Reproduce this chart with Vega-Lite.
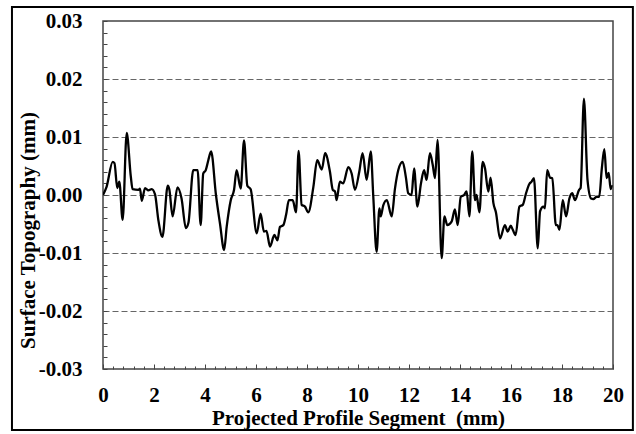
{
  "$schema": "https://vega.github.io/schema/vega-lite/v6.json",
  "width": 510,
  "height": 348,
  "autosize": {"type": "none"},
  "padding": {"left": 103, "top": 21, "right": 23, "bottom": 65},
  "background": "white",
  "config": {"view": {"stroke": "#444", "strokeWidth": 1.5}, "font": "Liberation Serif"},
  "resolve": {"scale": {"x": "independent", "y": "independent"}, "axis": {"x": "independent", "y": "independent"}},
  "layer": [
    {
      "data": {"values": [
        {"x": 0, "y": 0}, {"x": 0.14, "y": 0.0014}, {"x": 0.38, "y": 0.0057}, {"x": 0.45, "y": 0.0055}, {"x": 0.56, "y": 0.0012},
        {"x": 0.64, "y": 0.0023}, {"x": 0.77, "y": -0.0043}, {"x": 0.93, "y": 0.0107}, {"x": 1.09, "y": 0.0032}, {"x": 1.16, "y": 0.001},
        {"x": 1.39, "y": 0.0009}, {"x": 1.45, "y": 0.0011}, {"x": 1.52, "y": -0.001}, {"x": 1.65, "y": 0.0012}, {"x": 1.78, "y": 0.0008},
        {"x": 1.91, "y": 0.001}, {"x": 2.04, "y": 0.0001}, {"x": 2.17, "y": -0.0043}, {"x": 2.33, "y": -0.0072}, {"x": 2.54, "y": 0.0016},
        {"x": 2.6, "y": 0.001}, {"x": 2.73, "y": -0.0037}, {"x": 2.92, "y": 0.0013}, {"x": 3.08, "y": -0.0006}, {"x": 3.25, "y": -0.0057},
        {"x": 3.35, "y": -0.0048}, {"x": 3.54, "y": 0.0043}, {"x": 3.71, "y": 0.0043}, {"x": 3.83, "y": -0.0052}, {"x": 3.93, "y": 0.0037},
        {"x": 4.03, "y": 0.0043}, {"x": 4.13, "y": 0.006}, {"x": 4.24, "y": 0.0075}, {"x": 4.43, "y": 0.0}, {"x": 4.59, "y": -0.005},
        {"x": 4.75, "y": -0.0095}, {"x": 4.85, "y": -0.0055}, {"x": 5.01, "y": -0.0009}, {"x": 5.14, "y": 0.0009}, {"x": 5.24, "y": 0.0043},
        {"x": 5.4, "y": 0.0011}, {"x": 5.53, "y": 0.0094}, {"x": 5.66, "y": 0.0016}, {"x": 5.79, "y": 0.001}, {"x": 6.03, "y": -0.0066},
        {"x": 6.18, "y": -0.0032}, {"x": 6.31, "y": -0.0063}, {"x": 6.41, "y": -0.0062}, {"x": 6.55, "y": -0.0089}, {"x": 6.72, "y": -0.0069},
        {"x": 6.84, "y": -0.0078}, {"x": 6.94, "y": -0.0055}, {"x": 7.07, "y": -0.0052}, {"x": 7.18, "y": -0.0034}, {"x": 7.29, "y": -0.0009},
        {"x": 7.44, "y": -0.0009}, {"x": 7.57, "y": -0.003}, {"x": 7.67, "y": 0.0076}, {"x": 7.79, "y": -0.0017}, {"x": 7.92, "y": -0.002},
        {"x": 8.05, "y": -0.003}, {"x": 8.25, "y": 0.0014}, {"x": 8.4, "y": 0.006}, {"x": 8.58, "y": 0.0044}, {"x": 8.71, "y": 0.0072},
        {"x": 8.9, "y": 0.004}, {"x": 9.01, "y": 0.0009}, {"x": 9.1, "y": 0.0006}, {"x": 9.16, "y": -0.0009}, {"x": 9.29, "y": 0.0023},
        {"x": 9.42, "y": 0.002}, {"x": 9.62, "y": 0.0048}, {"x": 9.75, "y": 0.0037}, {"x": 9.88, "y": 0.0009}, {"x": 10.05, "y": 0.004},
        {"x": 10.18, "y": 0.0072}, {"x": 10.34, "y": 0.0026}, {"x": 10.5, "y": 0.0075}, {"x": 10.6, "y": -0.0003}, {"x": 10.73, "y": -0.0098},
        {"x": 10.84, "y": -0.0023}, {"x": 10.89, "y": -0.0037}, {"x": 10.99, "y": -0.0018}, {"x": 11.13, "y": -0.0009}, {"x": 11.32, "y": -0.0037},
        {"x": 11.45, "y": 0.0011}, {"x": 11.58, "y": 0.0043}, {"x": 11.75, "y": 0.0057}, {"x": 11.88, "y": 0.003}, {"x": 11.97, "y": 0.0003},
        {"x": 12.1, "y": 0.0}, {"x": 12.2, "y": 0.0046}, {"x": 12.33, "y": -0.002}, {"x": 12.47, "y": 0.002}, {"x": 12.59, "y": 0.0043},
        {"x": 12.69, "y": 0.0026}, {"x": 12.82, "y": 0.0072}, {"x": 12.93, "y": 0.0052}, {"x": 13.02, "y": 0.0029}, {"x": 13.12, "y": 0.0095},
        {"x": 13.28, "y": -0.0109}, {"x": 13.39, "y": -0.0037}, {"x": 13.5, "y": -0.0052}, {"x": 13.67, "y": -0.0046}, {"x": 13.8, "y": -0.0025},
        {"x": 13.91, "y": -0.0052}, {"x": 14.03, "y": -0.0003}, {"x": 14.16, "y": 0.0}, {"x": 14.26, "y": 0.0006}, {"x": 14.37, "y": -0.0037},
        {"x": 14.48, "y": 0.0075}, {"x": 14.59, "y": -0.0009}, {"x": 14.65, "y": 0.0}, {"x": 14.76, "y": -0.003}, {"x": 14.89, "y": 0.0057},
        {"x": 14.98, "y": 0.0046}, {"x": 15.11, "y": 0.0006}, {"x": 15.2, "y": 0.003}, {"x": 15.31, "y": -0.0014}, {"x": 15.41, "y": -0.003},
        {"x": 15.57, "y": -0.0075}, {"x": 15.76, "y": -0.0052}, {"x": 15.87, "y": -0.0063}, {"x": 15.99, "y": -0.0053}, {"x": 16.07, "y": -0.006},
        {"x": 16.18, "y": -0.0069}, {"x": 16.33, "y": -0.002}, {"x": 16.46, "y": -0.0017}, {"x": 16.59, "y": 0.0003}, {"x": 16.72, "y": 0.0019},
        {"x": 16.81, "y": 0.0023}, {"x": 16.9, "y": 0.0029}, {"x": 17.05, "y": -0.0092}, {"x": 17.14, "y": -0.0028}, {"x": 17.27, "y": -0.002},
        {"x": 17.33, "y": -0.0023}, {"x": 17.42, "y": 0.0043}, {"x": 17.53, "y": 0.003}, {"x": 17.62, "y": 0.0029}, {"x": 17.76, "y": -0.0052},
        {"x": 17.82, "y": -0.0052}, {"x": 17.9, "y": -0.006}, {"x": 18.03, "y": -0.0009}, {"x": 18.16, "y": -0.0037}, {"x": 18.29, "y": -0.0006},
        {"x": 18.4, "y": 0.0003}, {"x": 18.51, "y": -0.0009}, {"x": 18.67, "y": 0.0009}, {"x": 18.73, "y": 0.0012}, {"x": 18.86, "y": 0.0166},
        {"x": 19.0, "y": 0.0026}, {"x": 19.14, "y": -0.0006}, {"x": 19.23, "y": -0.0007}, {"x": 19.36, "y": -0.0003}, {"x": 19.46, "y": -0.0003},
        {"x": 19.56, "y": 0.0045}, {"x": 19.66, "y": 0.0079}, {"x": 19.75, "y": 0.0029}, {"x": 19.83, "y": 0.0038}, {"x": 19.91, "y": 0.001},
        {"x": 19.95, "y": 0.0017}
      ]},
      "mark": {"type": "line", "color": "black", "strokeWidth": 2.3, "interpolate": "monotone", "clip": true},
      "encoding": {
        "x": {
          "field": "x", "type": "quantitative",
          "scale": {"domain": [0, 20], "nice": false, "zero": false},
          "axis": {
            "title": "Projected Profile Segment \u00a0(mm)",
            "values": [0,0.4,0.8,1.2,1.6,2,2.4,2.8,3.2,3.6,4,4.4,4.8,5.2,5.6,6,6.4,6.8,7.2,7.6,8,8.4,8.8,9.2,9.6,10,10.4,10.8,11.2,11.6,12,12.4,12.8,13.2,13.6,14,14.4,14.8,15.2,15.6,16,16.4,16.8,17.2,17.6,18,18.4,18.8,19.2,19.6,20],
            "labelExpr": "abs(datum.value/2 - round(datum.value/2)) < 0.01 ? format(datum.value, 'd') : ''",
            "grid": false,
            "domain": false,
            "tickColor": "#444",
            "tickWidth": 1,
            "tickSize": {"condition": {"test": "abs(datum.value/2 - round(datum.value/2)) < 0.01", "value": -5}, "value": -3},
            "labelFont": "Liberation Serif",
            "labelFontSize": 21,
            "labelFontWeight": "bold",
            "labelColor": "black",
            "labelPadding": 20,
            "labelOverlap": false,
            "labelFlush": false,
            "labelBound": false,
            "titleFont": "Liberation Serif",
            "titleFontSize": 21,
            "titleFontWeight": "bold",
            "titleColor": "black",
            "titleY": 55,
            "titleBaseline": "alphabetic"
          }
        },
        "y": {
          "field": "y", "type": "quantitative",
          "scale": {"domain": [-0.03, 0.03], "nice": false, "zero": false},
          "axis": {
            "title": "Surface Topography (mm)",
            "values": [-0.03,-0.028,-0.026,-0.024,-0.022,-0.02,-0.018,-0.016,-0.014,-0.012,-0.01,-0.008,-0.006,-0.004,-0.002,0,0.002,0.004,0.006,0.008,0.01,0.012,0.014,0.016,0.018,0.02,0.022,0.024,0.026,0.028,0.03],
            "labelExpr": "abs(datum.value*100 - round(datum.value*100)) < 0.01 ? replace(format(datum.value, '.2f'), '−', '-') : ''",
            "grid": true,
            "gridColor": "#666",
            "gridDash": [6, 3],
            "gridWidth": 1,
            "gridOpacity": {"condition": {"test": "abs(datum.value*100 - round(datum.value*100)) < 0.01 && abs(datum.value) < 0.025", "value": 1}, "value": 0},
            "domain": false,
            "tickColor": "#444",
            "tickWidth": 1,
            "tickSize": -4,
            "labelFont": "Liberation Serif",
            "labelFontSize": 21,
            "labelFontWeight": "bold",
            "labelColor": "black",
            "labelPadding": 25,
            "labelOverlap": false,
            "labelFlush": false,
            "labelBound": false,
            "titleFont": "Liberation Serif",
            "titleFontSize": 21,
            "titleFontWeight": "bold",
            "titleColor": "black",
            "titleX": -69,
            "titleY": 209,
            "titleAngle": 270,
            "titleAlign": "center",
            "titleBaseline": "alphabetic"
          }
        }
      }
    },
    {
      "data": {"values": [{"frame": 1}]},
      "mark": {"type": "rect", "filled": false, "stroke": "black", "strokeWidth": 2, "clip": false},
      "encoding": {
        "x": {"datum": -3.57, "type": "quantitative", "scale": {"domain": [0, 20], "nice": false, "zero": false}, "axis": null},
        "x2": {"datum": 20.78},
        "y": {"datum": 0.0324, "type": "quantitative", "scale": {"domain": [-0.03, 0.03], "nice": false, "zero": false}, "axis": null},
        "y2": {"datum": -0.0405}
      }
    }
  ]
}
